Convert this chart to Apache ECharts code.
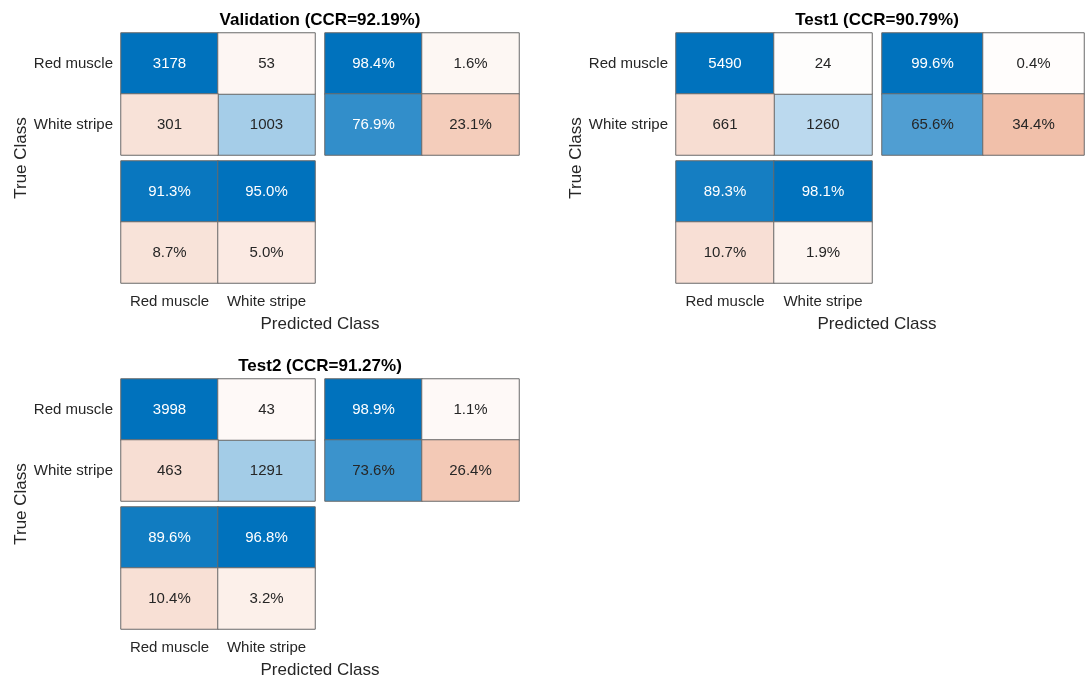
<!DOCTYPE html>
<html>
<head>
<meta charset="utf-8">
<title>Confusion matrices</title>
<script src="https://cdn.jsdelivr.net/npm/echarts@6/dist/echarts.min.js"></script>
<style>
  html, body { margin: 0; padding: 0; background: #fff; }
  #chart { width: 1085px; height: 677px; }
</style>
</head>
<body>
<div id="chart"></div>
<script>
// 类别
const classNames = ['Red muscle', 'White stripe'];
const summaryNames = ['correct', 'incorrect'];
const panelTitles = ['Validation (CCR=92.19%)', 'Test1 (CCR=90.79%)', 'Test2 (CCR=91.27%)'];

// 混淆矩阵计数 [true][predicted]
const validationCounts = [[3178, 53], [301, 1003]];
const test1Counts = [[5490, 24], [661, 1260]];
const test2Counts = [[3998, 43], [463, 1291]];

// 行汇总 (%) [true][correct, incorrect]
const validationRowPct = [[98.4, 1.6], [76.9, 23.1]];
const test1RowPct = [[99.6, 0.4], [65.6, 34.4]];
const test2RowPct = [[98.9, 1.1], [73.6, 26.4]];

// 列汇总 (%) [correct, incorrect][predicted]
const validationColPct = [[91.3, 95.0], [8.7, 5.0]];
const test1ColPct = [[89.3, 98.1], [10.7, 1.9]];
const test2ColPct = [[89.6, 96.8], [10.4, 3.2]];

const panelCounts = [validationCounts, test1Counts, test2Counts];
const panelRowPct = [validationRowPct, test1RowPct, test2RowPct];
const panelColPct = [validationColPct, test1ColPct, test2ColPct];

// 布局
const panelLayout = [
  { x: 121, y: 33, cw: 97, ch: 61, rw: 194 },
  { x: 676, y: 33, cw: 98, ch: 61, rw: 202 },
  { x: 121, y: 379, cw: 97, ch: 61, rw: 194 }
];

const FONT = "'Liberation Sans', Arial, Helvetica, sans-serif";
const TEXT = '#262626';

// 颜色渐变
const ramp = (base, gamma, scale) => {
  const stops = [];
  for (let k = 0; k <= 40; k++) {
    const a = scale * Math.pow(k / 40, gamma);
    const c = base.map(v => Math.round(255 + (v - 255) * a));
    stops.push('rgb(' + c.join(',') + ')');
  }
  return stops;
};
const blueRamp = ramp([0, 114, 189], 0.9, 1);
const orangeRamp = ramp([217, 83, 25], 0.6, 0.7);

const grids = [];
const xAxes = [];
const yAxes = [];
const series = [];
const visualMaps = [];
const graphics = [];

const hideAxis = { axisLine: { show: false }, axisTick: { show: false }, splitLine: { show: false } };

const addBlock = (grid, xData, yData, showX, showY, matrix, isBlue, fmt) => {
  grids.push(grid);
  const gi = grids.length - 1;
  xAxes.push({
    type: 'category', gridIndex: gi, data: xData, ...hideAxis,
    axisLabel: { show: showX, interval: 0, fontSize: 15, color: TEXT, margin: 11, fontFamily: FONT }
  });
  yAxes.push({
    type: 'category', gridIndex: gi, data: yData, inverse: true, ...hideAxis,
    axisLabel: { show: showY, interval: 0, fontSize: 15, color: TEXT, margin: 8, fontFamily: FONT }
  });
  const max = Math.max(...matrix.flat());
  const blue = [];
  const orange = [];
  matrix.forEach((row, i) => row.forEach((v, j) => {
    (isBlue(i, j) ? blue : orange).push([j, i, v]);
  }));
  [[blue, blueRamp], [orange, orangeRamp]].forEach(([data, colors]) => {
    series.push({
      type: 'heatmap',
      xAxisIndex: gi,
      yAxisIndex: gi,
      data,
      itemStyle: { borderColor: '#6a6a6a', borderWidth: 1 },
      emphasis: { disabled: true },
      label: {
        show: true,
        formatter: p => {
          const txt = fmt(p.value[2]);
          return colors === blueRamp && p.value[2] / max > 0.76 ? '{w|' + txt + '}' : '{d|' + txt + '}';
        },
        rich: {
          w: { color: '#ffffff', fontSize: 15, fontFamily: FONT },
          d: { color: TEXT, fontSize: 15, fontFamily: FONT }
        }
      }
    });
    visualMaps.push({
      type: 'continuous', show: false, seriesIndex: series.length - 1, dimension: 2,
      min: 0, max, inRange: { color: colors }
    });
  });
};

panelLayout.forEach((L, p) => {
  const mw = 2 * L.cw;
  const mh = 2 * L.ch;
  const pct = v => v.toFixed(1) + '%';
  // 主矩阵
  addBlock({ left: L.x, top: L.y, width: mw, height: mh }, classNames, classNames, false, true,
    panelCounts[p], (i, j) => i === j, v => String(v));
  // 行汇总
  addBlock({ left: L.x + mw + 10, top: L.y, width: L.rw, height: mh }, summaryNames, classNames, false, false,
    panelRowPct[p], (i, j) => j === 0, pct);
  // 列汇总
  addBlock({ left: L.x, top: L.y + mh + 6, width: mw, height: mh }, classNames, summaryNames, true, false,
    panelColPct[p], (i, j) => i === 0, pct);

  const cx = L.x + (2 * mw + 10) / 2;
  graphics.push({
    type: 'text', x: cx, y: L.y - 13,
    style: { text: panelTitles[p], fontSize: 17, fontWeight: 'bold', fontFamily: FONT, fill: '#000', align: 'center', verticalAlign: 'middle' }
  });
  graphics.push({
    type: 'text', x: cx, y: L.y + 2 * mh + 6 + 41,
    style: { text: 'Predicted Class', fontSize: 17, fontFamily: FONT, fill: TEXT, align: 'center', verticalAlign: 'middle' }
  });
  graphics.push({
    type: 'text', x: L.x - 100, y: L.y + mh + 3, rotation: Math.PI / 2,
    style: { text: 'True Class', fontSize: 17, fontFamily: FONT, fill: TEXT, align: 'center', verticalAlign: 'middle' }
  });
});

const chart = echarts.init(document.getElementById('chart'));
chart.setOption({
  animation: false,
  backgroundColor: '#ffffff',
  textStyle: { fontFamily: FONT },
  grid: grids,
  xAxis: xAxes,
  yAxis: yAxes,
  visualMap: visualMaps,
  series,
  graphic: graphics
});
</script>
</body>
</html>
